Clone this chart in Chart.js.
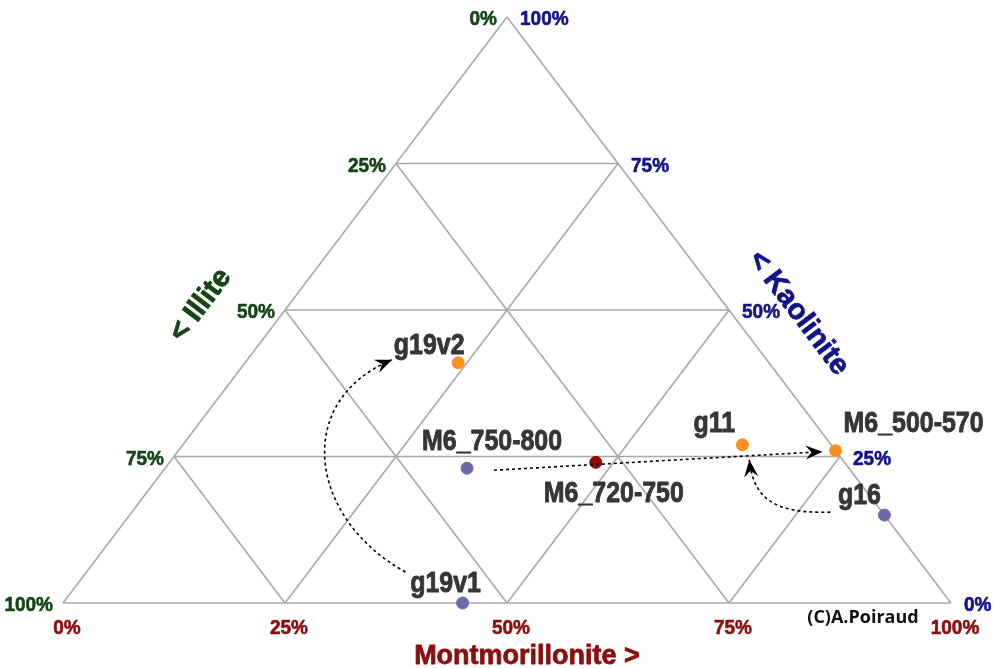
<!DOCTYPE html>
<html>
<head>
<meta charset="utf-8">
<script src="https://cdn.jsdelivr.net/npm/chart.js@4.4.1/dist/chart.umd.min.js"></script>
<style>
  html, body { margin: 0; padding: 0; background: #fff; }
  #wrap { width: 994px; height: 668px; }
</style>
</head>
<body>
<div id="wrap"><canvas id="ternaryChart" width="994" height="668"></canvas></div>
<script>
// sample compositions (%)
const samples = ['g19v2', 'M6_750-800', 'M6_720-750', 'g11', 'M6_500-570', 'g16', 'g19v1'];
const illite = [35, 43, 28, 10, 0, 0, 55];
const montmorillonite = [24, 34, 48, 63, 74, 85, 45];
const kaolinite = [41, 23, 24, 27, 26, 15, 0];
const sampleColors = ['#f7901e', '#6b6ba8', '#8b0a0a', '#f7901e', '#f7901e', '#6b6ba8', '#6b6ba8'];

const tickValues = [0, 25, 50, 75, 100];
const gridValues = [25, 50, 75];

// label offsets (px, text centre / baseline) relative to each point
const labelOffsets = [[-29, -9], [25, -18], [18, 40], [-28, -13], [78, -19], [-25, -11], [-17, -11]];

// arrows: from sample -> to sample, with pixel offsets and bezier handles
const arrows = [
    { from: 'g19v1', to: 'g19v2', start: [-57, -31], end: [-66, -3], c1: [-97, -53], c2: [-100, 41] },
    { from: 'M6_750-800', to: 'M6_500-570', start: [27, 2], end: [-13, 1] },
    { from: 'g16', to: 'g11', start: [-54, -3], end: [7, 15], c1: [-60, 2], c2: [4, 36] }
];

const GRID = '#a8a8a8';
const TEXT = '#363636';
const GREEN = '#154515';
const BLUE = '#13138a';
const RED = '#8b0f0f';

function toXY(m, k) {
    return { x: (m + k / 2) / 100, y: k / 100 };
}

function gridLine(a, b) {
    return {
        type: 'line',
        data: [toXY(a[0], a[1]), toXY(b[0], b[1])],
        borderColor: GRID,
        borderWidth: 1.6,
        pointRadius: 0,
        showLine: true,
        fill: false,
        order: 2
    };
}

const gridSets = [];
// outline
gridSets.push(gridLine([0, 0], [100, 0]));
gridSets.push(gridLine([100, 0], [0, 100]));
gridSets.push(gridLine([0, 100], [0, 0]));
gridValues.forEach(v => {
    gridSets.push(gridLine([0, v], [100 - v, v]));      // constant kaolinite
    gridSets.push(gridLine([v, 0], [v, 100 - v]));      // constant montmorillonite
    gridSets.push(gridLine([100 - v, 0], [0, 100 - v])); // constant illite
});

const pointSet = {
    type: 'scatter',
    data: samples.map((s, i) => toXY(montmorillonite[i], kaolinite[i])),
    backgroundColor: sampleColors,
    borderColor: sampleColors,
    pointRadius: 6,
    pointHoverRadius: 6,
    order: 0
};

function drawText(ctx, text, x, y, font, color, align, sx, rot, bold) {
    ctx.save();
    ctx.translate(x, y);
    if (rot) ctx.rotate(rot);
    ctx.scale(sx || 1, 1);
    ctx.font = font;
    ctx.fillStyle = color;
    ctx.textAlign = align || 'center';
    ctx.textBaseline = 'alphabetic';
    ctx.fillText(text, 0, 0);
    if (bold) {
        ctx.strokeStyle = color;
        ctx.lineWidth = bold;
        ctx.lineJoin = 'round';
        ctx.strokeText(text, 0, 0);
    }
    ctx.restore();
}

function arrowHead(ctx, x, y, ang) {
    ctx.save();
    ctx.translate(x, y);
    ctx.rotate(ang);
    ctx.beginPath();
    ctx.moveTo(0, 0);
    ctx.lineTo(-17, -7);
    ctx.lineTo(-11, 0);
    ctx.lineTo(-17, 7);
    ctx.closePath();
    ctx.fillStyle = '#000';
    ctx.fill();
    ctx.restore();
}

const ternaryDecor = {
    id: 'ternaryDecor',
    afterDatasetsDraw(chart) {
        const ctx = chart.ctx;
        const sx = chart.scales.x, sy = chart.scales.y;
        const px = (m, k) => { const p = toXY(m, k); return [sx.getPixelForValue(p.x), sy.getPixelForValue(p.y)]; };
        const ptOf = name => { const i = samples.indexOf(name); return px(montmorillonite[i], kaolinite[i]); };

        // arrows
        arrows.forEach(a => {
            const p0 = ptOf(a.from), p1 = ptOf(a.to);
            const s = [p0[0] + a.start[0], p0[1] + a.start[1]];
            const e = [p1[0] + a.end[0], p1[1] + a.end[1]];
            ctx.save();
            ctx.strokeStyle = '#000';
            ctx.lineWidth = 1.6;
            ctx.setLineDash([3, 3]);
            ctx.beginPath();
            ctx.moveTo(s[0], s[1]);
            let ang;
            if (a.c1) {
                const c1 = [s[0] + a.c1[0], s[1] + a.c1[1]];
                const c2 = [e[0] + a.c2[0], e[1] + a.c2[1]];
                ctx.bezierCurveTo(c1[0], c1[1], c2[0], c2[1], e[0], e[1]);
                ang = Math.atan2(e[1] - c2[1], e[0] - c2[0]);
            } else {
                ctx.lineTo(e[0], e[1]);
                ang = Math.atan2(e[1] - s[1], e[0] - s[0]);
            }
            ctx.stroke();
            ctx.restore();
            arrowHead(ctx, e[0], e[1], ang);
        });

        // sample labels
        samples.forEach((s, i) => {
            const p = px(montmorillonite[i], kaolinite[i]);
            drawText(ctx, s, p[0] + labelOffsets[i][0], p[1] + labelOffsets[i][1],
                'bold 29px "Liberation Sans", Arial, sans-serif', TEXT, 'center', 0.86, 0, 0.9);
        });

        // tick labels
        const tf = 'bold 20px "Liberation Sans", Arial, sans-serif';
        tickValues.forEach(v => {
            // illite along left edge (I = v)
            let p = px(0, 100 - v);
            drawText(ctx, v + '%', p[0] - 10, p[1] + 8, tf, GREEN, 'right', 0.95, 0, 0.6);
            // kaolinite along right edge (K = v)
            p = px(100 - v, v);
            drawText(ctx, v + '%', p[0] + 13, p[1] + 8, tf, BLUE, 'left', 0.95, 0, 0.6);
            // montmorillonite along bottom (M = v)
            p = px(v, 0);
            drawText(ctx, v + '%', p[0] + 4, p[1] + 31, tf, RED, 'center', 0.95, 0, 0.6);
        });

        // axis titles
        const tl = px(0, 100), bl = px(0, 0), br = px(100, 0);
        const leftAng = Math.atan2(tl[1] - bl[1], tl[0] - bl[0]);
        const rightAng = Math.atan2(br[1] - tl[1], br[0] - tl[0]);
        drawText(ctx, '< Illite', 207, 310, 'bold 29px "Liberation Sans", Arial, sans-serif', GREEN, 'center', 1, leftAng, 0.8);
        drawText(ctx, '< Kaolinite', 792, 318, 'bold 29px "Liberation Sans", Arial, sans-serif', BLUE, 'center', 1, rightAng, 0.8);
        drawText(ctx, 'Montmorillonite >', (bl[0] + br[0]) / 2 + 20, 664, 'bold 27px "Liberation Sans", Arial, sans-serif', RED, 'center', 1, 0, 0.8);

        drawText(ctx, '(C)A.Poiraud', 863, 623, 'bold 18px "Open Sans", sans-serif', '#111', 'center', 1);
    }
};

new Chart(document.getElementById('ternaryChart'), {
    type: 'scatter',
    data: { datasets: [pointSet].concat(gridSets) },
    options: {
        responsive: false,
        animation: false,
        layout: { padding: { left: 63, right: 43, top: 17, bottom: 65 } },
        plugins: { legend: { display: false }, tooltip: { enabled: false } },
        scales: {
            x: { type: 'linear', min: 0, max: 1, display: false },
            y: { type: 'linear', min: 0, max: 1, display: false }
        },
        elements: { line: { tension: 0 } },
        clip: false
    },
    plugins: [ternaryDecor]
});
</script>
</body>
</html>
